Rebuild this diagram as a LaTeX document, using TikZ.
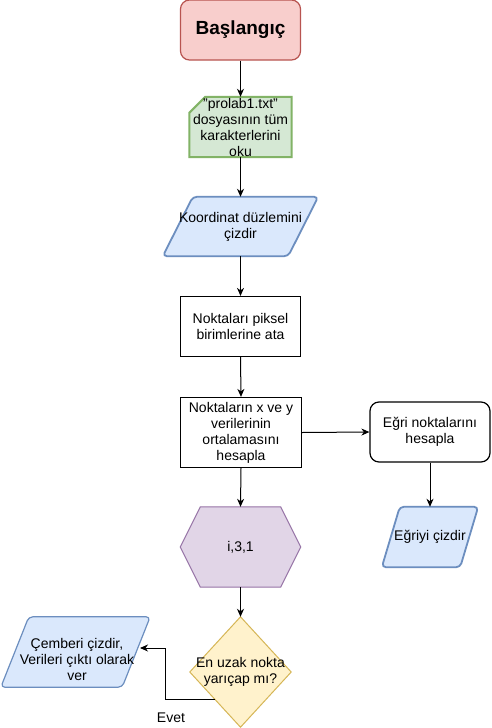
\documentclass[tikz,border=0pt]{standalone}
\usepackage{fontspec}
\setmainfont{Liberation Sans}
\usetikzlibrary{arrows.meta,backgrounds,calc}
\definecolor{pinkF}{HTML}{F8CECC}\definecolor{pinkS}{HTML}{B85450}
\definecolor{greenF}{HTML}{D5E8D4}\definecolor{greenS}{HTML}{82B366}
\definecolor{blueF}{HTML}{DAE8FC}\definecolor{blueS}{HTML}{6C8EBF}
\definecolor{purpF}{HTML}{E1D5E7}\definecolor{purpS}{HTML}{9673A6}
\definecolor{yelF}{HTML}{FFF2CC}\definecolor{yelS}{HTML}{D6B656}
\tikzset{
  txt/.style={align=center, inner sep=0pt, font=\fontsize{14}{16}\selectfont},
  startbox/.style={draw=pinkS, fill=pinkF, rounded corners=9pt, line width=1.2pt,
    minimum width=120pt, minimum height=60pt, font=\fontsize{19}{22}\selectfont\bfseries},
  plainbox/.style={txt, draw=black, fill=white, line width=1.2pt},
  cardshape/.style={draw=greenS, fill=greenF, line width=2pt},
  parashape/.style={draw=blueS, fill=blueF, line width=1.8pt, rounded corners=4pt, line join=round},
  hexshape/.style={draw=purpS, fill=purpF, line width=1pt},
  diashape/.style={draw=yelS, fill=yelF, line width=1pt},
  conn/.style={-{Stealth[length=8pt,width=7pt,inset=2.5pt]}, line width=1pt, draw=black},
}
\begin{document}
\begin{tikzpicture}[x=1pt,y=-1pt]
\begin{scope}[on background layer]
  \fill[white] (0,0) rectangle (491,728);
\end{scope}
\useasboundingbox (0,0) rectangle (491,728);

\node[startbox] (start) at (240.5,30) {Başlangıç};
\node[txt, minimum width=102pt, minimum height=60pt] (card) at (240.5,127) {"prolab1.txt"\\dosyasının tüm\\karakterlerini\\oku};
\node[txt, minimum width=155pt, minimum height=59pt] (coord) at (240.5,226.5) {Koordinat düzlemini\\çizdir};
\node[plainbox, minimum width=120pt, minimum height=60pt] (pix) at (240.5,326.5) {Noktaları piksel\\birimlerine ata};
\node[plainbox, minimum width=121pt, minimum height=70pt] (avg) at (241,432.5) {Noktaların x ve y\\verilerinin\\ortalamasını\\hesapla};
\node[plainbox, rounded corners=9pt, minimum width=120pt, minimum height=60pt] (curve) at (430,432) {Eğri noktalarını\\hesapla};
\node[txt, minimum width=96pt, minimum height=60pt] (drawc) at (430,537) {Eğriyi çizdir};
\node[txt, minimum width=120pt, minimum height=80pt] (hex) at (240.5,547) {i,3,1};
\node[txt, minimum width=101pt, minimum height=110pt] (dia) at (240.5,672) {En uzak nokta\\yarıçap mı?};
\node[txt, minimum width=149pt, minimum height=70pt] (circ) at (75.5,652) {};
\node[txt] (circt) at (77,659) {Çemberi çizdir,\\Verileri çıktı olarak\\ver};
\node[txt, anchor=center] (evet) at (171,718) {Evet};

\begin{scope}[on background layer]
  \draw[cardshape] ([yshift=-16pt]card.north west) -- ([xshift=16pt]card.north west) -- (card.north east) -- (card.south east) -- (card.south west) -- cycle;
  \draw[parashape] ([xshift=30pt]coord.north west) -- (coord.north east) -- ([xshift=-30pt]coord.south east) -- (coord.south west) -- cycle;
  \draw[parashape] ([xshift=18pt]drawc.north west) -- (drawc.north east) -- ([xshift=-18pt]drawc.south east) -- (drawc.south west) -- cycle;
  \draw[parashape, line width=1.2pt] ([xshift=28pt]circ.north west) -- (circ.north east) -- ([xshift=-28pt]circ.south east) -- (circ.south west) -- cycle;
  \draw[hexshape] (hex.west) -- ([xshift=20pt]hex.north west) -- ([xshift=-20pt]hex.north east) -- (hex.east) -- ([xshift=-20pt]hex.south east) -- ([xshift=20pt]hex.south west) -- cycle;
  \draw[diashape] (dia.north) -- (dia.east) -- (dia.south) -- (dia.west) -- cycle;
\end{scope}

\draw[conn] (start.south) -- (card.north);
\draw[conn] (card.south) -- (coord.north);
\draw[conn] (coord.south) -- (pix.north);
\draw[conn] (pix.south) -- (avg.north);
\draw[conn] (avg.east) -- (curve.west);
\draw[conn] (curve.south) -- (drawc.north);
\draw[conn] (avg.south) -- (hex.north);
\draw[conn] (hex.south) -- (dia.north);
\coordinate (yes1) at ($(dia.west)!0.5!(dia.south)$);
\coordinate (yes2) at (140,648);
\draw[conn] (yes1) -| ($(yes2)+(25,0)$) -- (yes2);
\end{tikzpicture}
\end{document}
